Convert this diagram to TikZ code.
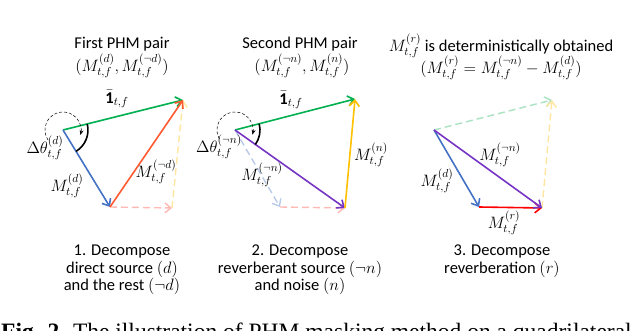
\RequirePackage{fix-cm}
\documentclass[tikz,border=0pt]{standalone}
\usepackage{fontspec}
\setmainfont{Carlito}
\newfontfamily\capfont{Liberation Serif}
\usetikzlibrary{arrows.meta}

\definecolor{vgreen}{RGB}{0,176,80}
\definecolor{vblue}{RGB}{68,114,196}
\definecolor{vorange}{RGB}{255,90,50}
\definecolor{vpurple}{RGB}{118,52,196}
\definecolor{vyellow}{RGB}{255,192,0}
\definecolor{vred}{RGB}{255,0,0}
\definecolor{lpink}{RGB}{255,185,180}
\definecolor{lyellow}{RGB}{255,230,160}
\definecolor{lblue}{RGB}{185,202,232}
\definecolor{lgreen}{RGB}{170,226,194}

\tikzset{
  vec/.style={line width=1.6pt, -{Straight Barb[length=6pt,width=10pt]}},
  ghost/.style={vec, line width=1.4pt, dash pattern=on 7pt off 4pt},
  turn/.style={line width=0.5pt, densely dashed, -{Stealth[length=5pt,width=4pt]}},
  wedge/.style={line width=1.6pt},
  lbl/.style={inner sep=0pt},
}

\begin{document}
\begin{tikzpicture}[x=1pt,y=-1pt,font=\fontsize{16.5}{17.5}\selectfont]

% Canvas
\useasboundingbox (0,0) rectangle (640,331);
\clip (0,0) rectangle (640,331);

% Arc radii
\def\ra{25pt}
\def\rb{18pt}

% Panel 1 points
\coordinate (O1) at (63,130);
\coordinate (G1) at (183,100);
\coordinate (D1) at (110,207);
\coordinate (R1) at (172,208);

% Panel 1 vectors
\draw[ghost, lpink] (D1) -- (R1);
\draw[ghost, lyellow] (R1) -- (G1);
\draw[vec, vgreen] (O1) -- (G1);
\draw[vec, vblue] (O1) -- (D1);
\draw[vec, vorange] (D1) -- (G1);

% Panel 1 angle
\draw[wedge] (O1) ++(14:\ra) arc[start angle=14, end angle=-58.6, radius=\ra];
\draw[turn] (O1) ++(214:\rb) arc[start angle=214, end angle=-16, radius=\rb];

% Panel 1 labels
\node[lbl] (th1) at (45,148) {$\Delta\theta^{(d)}_{t,f}$};
\node[lbl] (one1) at (117,99) {$\bar{\mathbf{1}}_{t,f}$};
\node[lbl] (md1) at (67,186) {$M^{(d)}_{t,f}$};
\node[lbl] (mnd1) at (156,172) {$M^{(\neg d)}_{t,f}$};

% Panel 2 points
\coordinate (O2) at (235,130);
\coordinate (G2) at (355,99);
\coordinate (P2) at (345,208);
\coordinate (L2) at (280,207);

% Panel 2 vectors
\draw[ghost, lblue] (O2) -- (L2);
\draw[ghost, lpink] (L2) -- (P2);
\draw[vec, vgreen] (O2) -- (G2);
\draw[vec, vpurple] (O2) -- (P2);
\draw[vec, vyellow] (P2) -- (G2);

% Panel 2 angle
\draw[wedge] (O2) ++(14.5:\ra) arc[start angle=14.5, end angle=-35.3, radius=\ra];
\draw[turn] (O2) ++(210:\rb) arc[start angle=210, end angle=-15, radius=\rb];

% Panel 2 labels
\node[lbl] (th2) at (219,147) {$\Delta\theta^{(\neg n)}_{t,f}$};
\node[lbl] (one2) at (291,100) {$\bar{\mathbf{1}}_{t,f}$};
\node[lbl] (mnn2) at (262,175) {$M^{(\neg n)}_{t,f}$};
\node[lbl] (mn2) at (371,155) {$M^{(n)}_{t,f}$};

% Panel 3 points
\coordinate (O3) at (434,130);
\coordinate (G3) at (552,100);
\coordinate (D3) at (479,207);
\coordinate (P3) at (542,208);

% Panel 3 vectors
\draw[ghost, lgreen] (O3) -- (G3);
\draw[ghost, lyellow] (P3) -- (G3);
\draw[vec, vblue] (O3) -- (D3);
\draw[vec, vred] (D3) -- (P3);
\draw[vec, vpurple] (O3) -- (P3);

% Panel 3 labels
\node[lbl] (mnn3) at (500,155) {$M^{(\neg n)}_{t,f}$};
\node[lbl] (md3) at (437,181) {$M^{(d)}_{t,f}$};
\node[lbl] (mr3) at (504,223) {$M^{(r)}_{t,f}$};

% Titles
\node[lbl] (t1a) at (122,44) {First PHM pair};
\node[lbl] (t1b) at (122,66) {$(M^{(d)}_{t,f}, M^{(\neg d)}_{t,f})$};
\node[lbl] (t2a) at (300,44) {Second PHM pair};
\node[lbl] (t2b) at (302,66) {$(M^{(\neg n)}_{t,f}, M^{(n)}_{t,f})$};
\node[lbl] (t3a) at (501,46) {$M^{(r)}_{t,f}$ is deterministically obtained};
\node[lbl] (t3b) at (501,68) {$(M^{(r)}_{t,f} = M^{(\neg n)}_{t,f} - M^{(d)}_{t,f})$};

% Steps
\node[align=center] (s1) at (122,270) {1. Decompose\\direct source $(d)$\\and the rest $(\neg d)$};
\node[align=center] (s2) at (300,270) {2. Decompose\\reverberant source $(\neg n)$\\and noise $(n)$};
\node[align=center] (s3) at (502,261) {3. Decompose\\reverberation $(r)$};

% Caption
\node[anchor=base west, inner sep=0pt, font=\capfont\fontsize{23.5}{23.5}\selectfont] (cap) at (1,339)
  {\textbf{Fig. 2.} The illustration of PHM masking method on a quadrilateral};

\end{tikzpicture}
\end{document}
